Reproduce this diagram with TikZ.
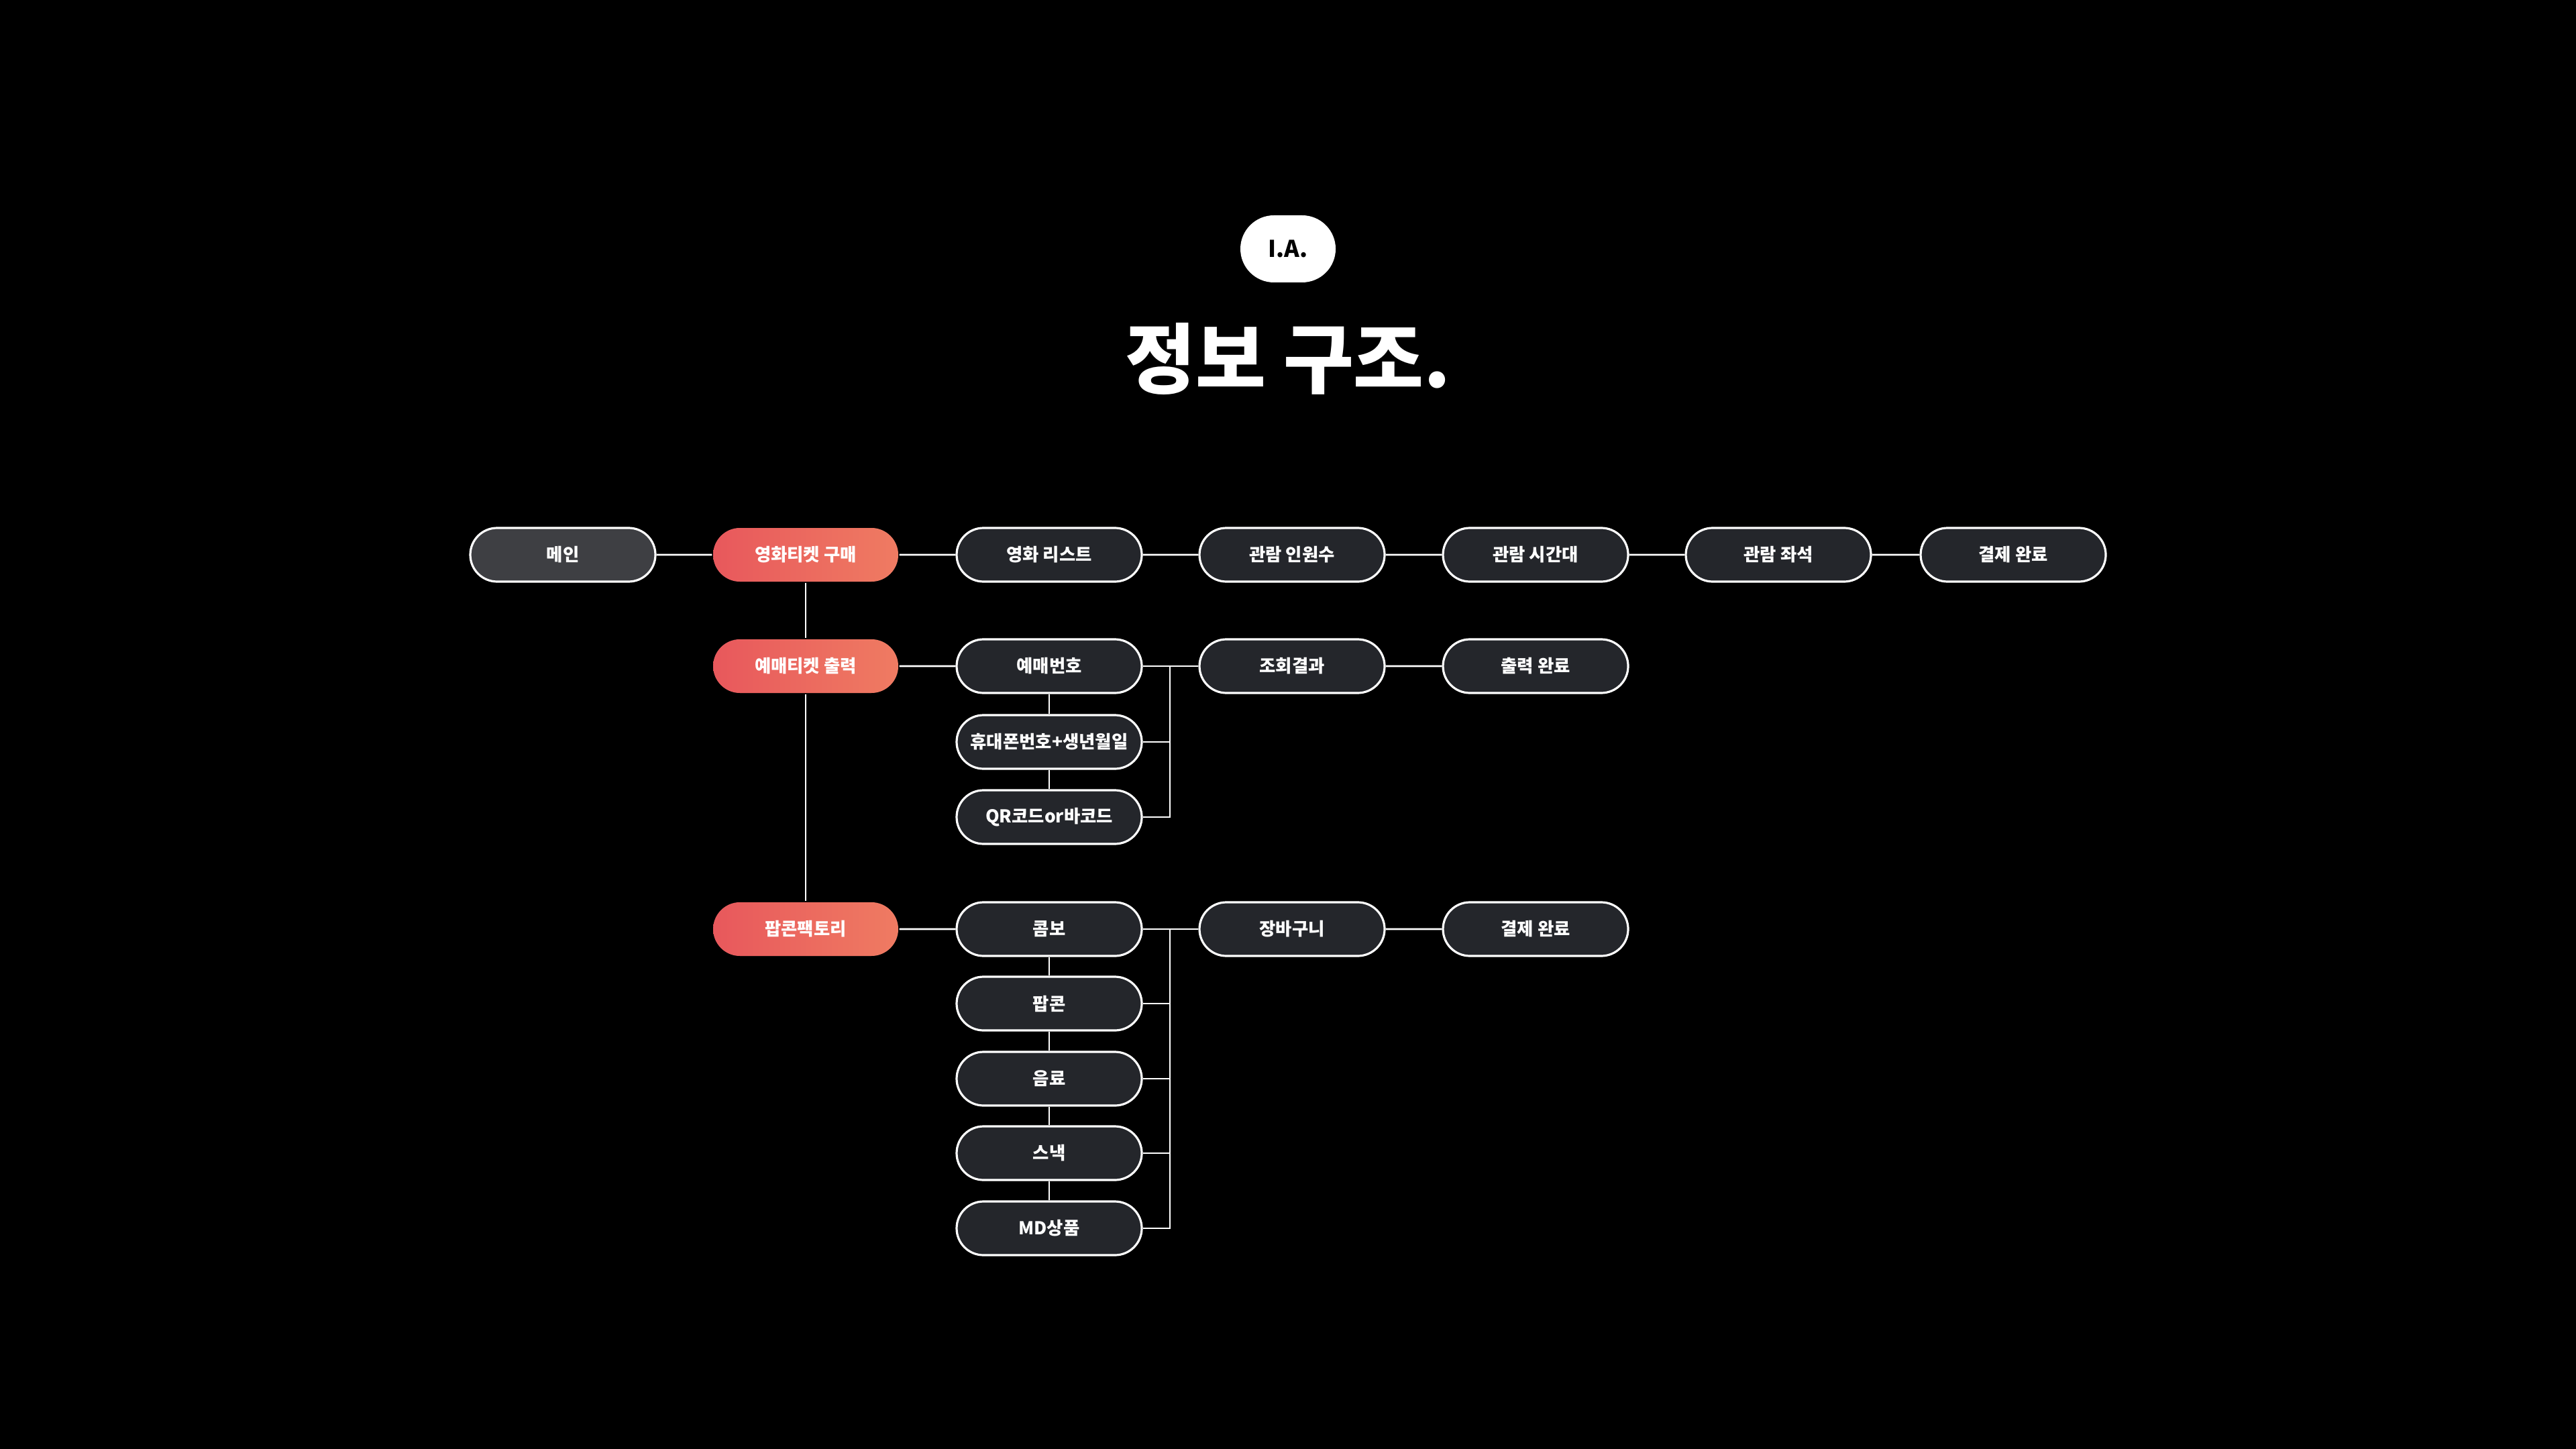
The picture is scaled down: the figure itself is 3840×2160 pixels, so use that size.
\documentclass[tikz,border=0pt]{standalone}
\usepackage{fontspec}
\setmainfont{Noto Sans CJK KR}
\usetikzlibrary{shapes.misc}
\definecolor{boxdark}{HTML}{24262B}
\definecolor{maingray}{HTML}{3E3F43}
\definecolor{hotL}{HTML}{E8585C}
\definecolor{hotR}{HTML}{EF7B62}
\begin{document}
\begin{tikzpicture}[x=0.25pt,y=-0.25pt,
  box/.style={rounded rectangle, draw=white, line width=0.8pt, fill=boxdark,
    minimum width=69pt, minimum height=20pt, inner sep=0pt, text=white,
    font=\bfseries\fontsize{6.6}{8}\selectfont},
  mainbox/.style={box, fill=maingray},
  hot/.style={box, draw=none, left color=hotL, right color=hotR},
  link/.style={draw=white, line width=0.7pt}]
\fill[black] (0,0) rectangle (3840,2160);
\useasboundingbox (0,0) rectangle (3840,2160);
% title
\node[fill=white, rounded rectangle, minimum width=35.5pt, minimum height=25pt,
  inner sep=0pt, text=black, font=\bfseries\fontsize{8.6}{10}\selectfont] (ia) at (1920,371) {I.A.};
\node[text=white, font=\bfseries\fontsize{28.5}{34}\selectfont] (title) at (1920,535) {정보 구조.};
% row 1
\node[mainbox] (main) at (839,827) {메인};
\node[hot] (buy) at (1201,827) {영화티켓 구매};
\node[box] (list) at (1564,827) {영화 리스트};
\node[box] (ppl) at (1926,827) {관람 인원수};
\node[box] (time) at (2289,827) {관람 시간대};
\node[box] (seat) at (2651,827) {관람 좌석};
\node[box] (pay) at (3001,827) {결제 완료};
% row 2
\node[hot] (print) at (1201,993) {예매티켓 출력};
\node[box] (num) at (1564,993) {예매번호};
\node[box] (phone) at (1564,1106) {휴대폰번호+생년월일};
\node[box] (qr) at (1564,1218) {QR코드or바코드};
\node[box] (res) at (1926,993) {조회결과};
\node[box] (done) at (2289,993) {출력 완료};
% row 3
\node[hot] (pop) at (1201,1385) {팝콘팩토리};
\node[box] (combo) at (1564,1385) {콤보};
\node[box] (corn) at (1564,1496) {팝콘};
\node[box] (drink) at (1564,1608) {음료};
\node[box] (snack) at (1564,1719) {스낵};
\node[box] (md) at (1564,1831) {MD상품};
\node[box] (cart) at (1926,1385) {장바구니};
\node[box] (pay2) at (2289,1385) {결제 완료};
\coordinate (busA) at (1744,993);
\coordinate (busB) at (1744,1385);
% links row 1
\draw[link] (main) -- (buy);
\draw[link] (buy) -- (list);
\draw[link] (list) -- (ppl);
\draw[link] (ppl) -- (time);
\draw[link] (time) -- (seat);
\draw[link] (seat) -- (pay);
% vertical spine
\draw[link] (buy.south) -- (print.north);
\draw[link] (print.south) -- (pop.north);
% ticket print
\draw[link] (print) -- (num);
\draw[link] (num.south) -- (phone.north);
\draw[link] (phone.south) -- (qr.north);
\draw[link] (num.east) -- (res.west);
\draw[link] (phone.east) -- (phone.east -| busA);
\draw[link] (qr.east) -| (busA);
\draw[link] (res) -- (done);
% popcorn
\draw[link] (pop) -- (combo);
\draw[link] (combo.south) -- (corn.north);
\draw[link] (corn.south) -- (drink.north);
\draw[link] (drink.south) -- (snack.north);
\draw[link] (snack.south) -- (md.north);
\draw[link] (combo.east) -- (cart.west);
\draw[link] (corn.east) -- (corn.east -| busB);
\draw[link] (drink.east) -- (drink.east -| busB);
\draw[link] (snack.east) -- (snack.east -| busB);
\draw[link] (md.east) -| (busB);
\draw[link] (cart) -- (pay2);
\end{tikzpicture}
\end{document}
